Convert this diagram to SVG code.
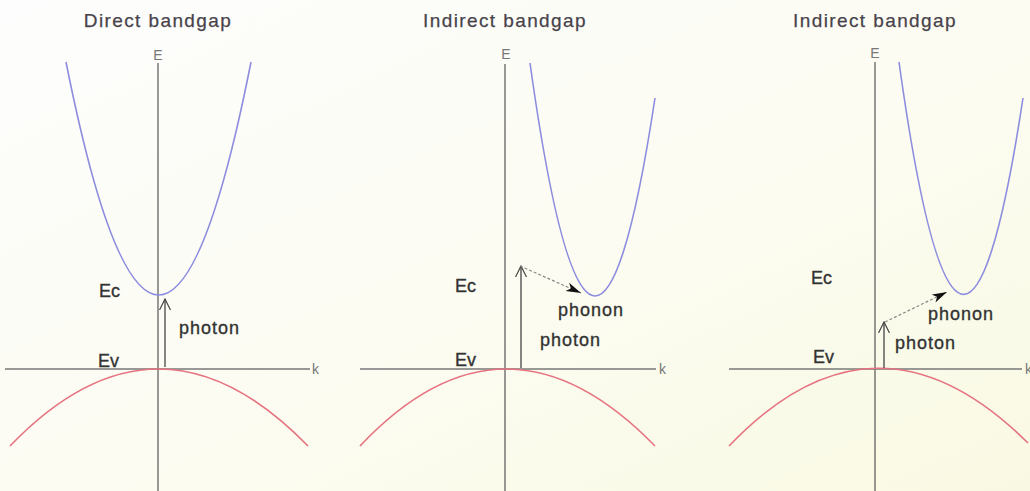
<svg xmlns="http://www.w3.org/2000/svg" width="1030" height="491" viewBox="0 0 1030 491">
  <defs>
    <linearGradient id="bg" x1="0" y1="0" x2="1" y2="1">
      <stop offset="0" stop-color="#fdfdfd"/>
      <stop offset="0.5" stop-color="#fcfcf3"/>
      <stop offset="1" stop-color="#f9f9e3"/>
    </linearGradient>
    <marker id="open" viewBox="0 0 12 12" refX="11" refY="6" markerWidth="12" markerHeight="12" markerUnits="userSpaceOnUse" orient="auto">
      <path d="M0,0.5 L11,6 L0,11.5" fill="none" stroke="#444" stroke-width="1.2"/>
    </marker>
    <marker id="solid" viewBox="0 0 16 10" refX="15" refY="5" markerWidth="16" markerHeight="10" markerUnits="userSpaceOnUse" orient="auto">
      <path d="M0,0.5 L15,5 L0,9.5 L4,5 Z" fill="#111"/>
    </marker>
  </defs>
  <style>
    .title{font-family:"Liberation Sans",Arial,sans-serif;font-size:19px;letter-spacing:1.4px;fill:#48434b;stroke:#48434b;stroke-width:0.25;text-anchor:middle}
    .ax{font-family:"Liberation Sans",Arial,sans-serif;font-size:14px;fill:#777}
    .lbl{font-family:"Liberation Sans",Arial,sans-serif;font-size:18px;fill:#333;stroke:#333;stroke-width:0.35}
    .sp{letter-spacing:1px}
    .vaxis{stroke:#555;stroke-width:1.2;fill:none}
    .haxis{stroke:#777;stroke-width:1.6;fill:none}
    .cb{stroke:#8d8ddf;stroke-width:1.6;fill:none}
    .vb{stroke:#e67380;stroke-width:1.6;fill:none}
    .photon{stroke:#444;stroke-width:1.3;fill:none}
    .phonon{stroke:#888;stroke-width:1.2;stroke-dasharray:3,2;fill:none}
  </style>
  <rect width="1030" height="491" fill="url(#bg)"/>

  <g id="panel-direct">
    <text class="title" x="158" y="27">Direct bandgap</text>
    <line class="vaxis" x1="158" y1="63" x2="158" y2="491"/>
    <text class="ax" x="158" y="60" text-anchor="middle">E</text>
    <line class="haxis" x1="5" y1="369" x2="310" y2="369"/>
    <text class="ax" x="312" y="374">k</text>
    <path class="cb" d="M66,62 Q159,528 251,62"/>
    <path class="vb" d="M10,446 Q158,292 308,446"/>
    <text class="lbl" x="99" y="297">Ec</text>
    <text class="lbl" x="98" y="367">Ev</text>
    <text class="lbl sp" x="179" y="334">photon</text>
  </g>

  <g id="panel-indirect-1">
    <text class="title" x="505" y="27">Indirect bandgap</text>
    <line class="vaxis" x1="505" y1="64" x2="505" y2="491"/>
    <text class="ax" x="506" y="59" text-anchor="middle">E</text>
    <line class="haxis" x1="360" y1="369" x2="656" y2="369"/>
    <text class="ax" x="659" y="374">k</text>
    <path class="cb" d="M530,63 Q592.5,510.7 655,98"/>
    <path class="vb" d="M360,446 Q505,292 655,446"/>
    <text class="lbl" x="455" y="292">Ec</text>
    <text class="lbl" x="455" y="366">Ev</text>
    <text class="lbl sp" x="558" y="316">phonon</text>
    <text class="lbl sp" x="540" y="346">photon</text>
  </g>

  <g id="panel-indirect-2">
    <text class="title" x="875" y="27">Indirect bandgap</text>
    <line class="vaxis" x1="875" y1="62" x2="875" y2="491"/>
    <text class="ax" x="875" y="58" text-anchor="middle">E</text>
    <line class="haxis" x1="729" y1="369" x2="1022" y2="369"/>
    <text class="ax" x="1025" y="374">k</text>
    <path class="cb" d="M899,62 Q961,508 1023,98"/>
    <path class="vb" d="M729,446 Q876,292 1028,443"/>
    <text class="lbl" x="811" y="284">Ec</text>
    <text class="lbl" x="813" y="363">Ev</text>
    <text class="lbl sp" x="928" y="320">phonon</text>
    <text class="lbl sp" x="895" y="349">photon</text>
  </g>

  <g id="connectors">
    <line class="photon" x1="165" y1="367" x2="165" y2="299" marker-end="url(#open)"/>
    <line class="photon" x1="521" y1="368" x2="521" y2="266" marker-end="url(#open)"/>
    <line class="phonon" x1="520" y1="266" x2="581" y2="293" marker-end="url(#solid)"/>
    <line class="photon" x1="884" y1="368" x2="884" y2="322" marker-end="url(#open)"/>
    <line class="phonon" x1="885" y1="322" x2="947" y2="292" marker-end="url(#solid)"/>
  </g>
</svg>
